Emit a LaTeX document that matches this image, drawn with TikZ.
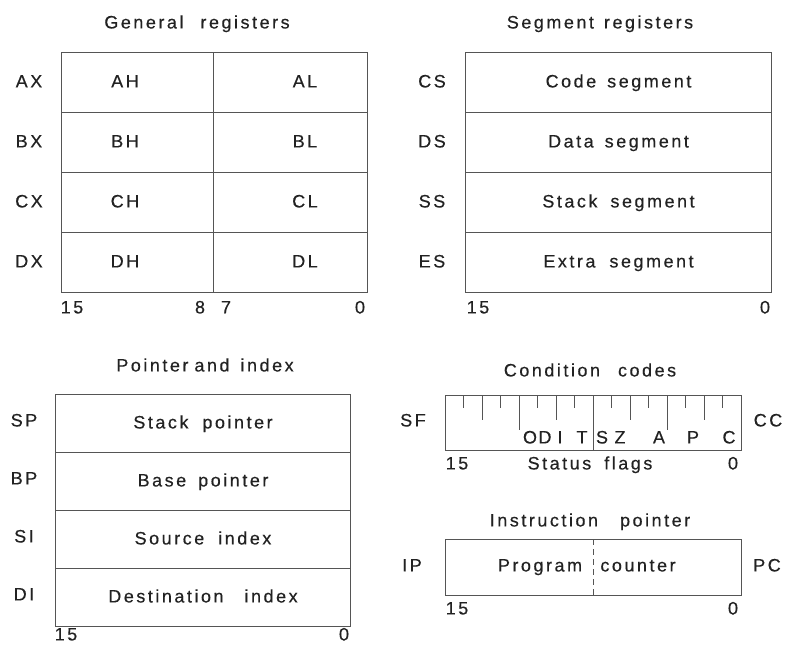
\documentclass[tikz,border=0pt]{standalone}
\usepackage{fontspec}
\setmainfont{Liberation Sans}[LetterSpace=14,FakeBold=0.4]
\definecolor{rule}{HTML}{555555}
\definecolor{ink}{HTML}{222222}
% explicit gap between words
\newcommand\wgap[1]{\hspace{#1pt}}
\begin{document}
\begin{tikzpicture}[x=1pt,y=-1pt,
  lbl/.style={font=\fontsize{18}{22}\selectfont, text=ink, inner sep=0pt,
              text height=12.9pt, text depth=0pt},
  cell/.style={lbl, text depth=3pt, draw=rule, line width=1pt, anchor=north west},
  tick/.style={draw=rule, line width=0.9pt}]
\useasboundingbox (0,0) rectangle (786,645);
\fill[white] (0,0) rectangle (786,645);

% ---------------- General registers ----------------
\node[lbl] (gtitle) at (197,22) {General\wgap{17}registers};
\foreach \r [count=\i from 0] in {A,B,C,D} {
  \node[cell, minimum width=152pt, minimum height=60pt] (\r hcell) at (61,52+60*\i) {};
  \node[cell, minimum width=154pt, minimum height=60pt] (\r lcell) at (213,52+60*\i) {};
  \node[lbl] (\r xname) at (29,81+60*\i) {\r X};
  \node[lbl] (\r hname) at (125,81+60*\i) {\r H};
  \node[lbl] (\r lname) at (305,81+60*\i) {\r L};
}
\node[lbl] (g15) at (72,307) {15};
\node[lbl] (g8) at (200,307) {8};
\node[lbl] (g7) at (226,307) {7};
\node[lbl] (g0) at (360,307) {0};

% ---------------- Segment registers ----------------
\node[lbl] (stitle) at (600,22) {Segment\wgap{10}registers};
\foreach \nm/\txt [count=\i from 0] in {CS/Code\wgap{11}segment, DS/Data\wgap{11}segment,
    SS/Stack\wgap{13}segment, ES/Extra\wgap{14}segment} {
  \node[cell, minimum width=306pt, minimum height=60pt] (\nm cell) at (465,52+60*\i) {\txt};
  \node[lbl] (\nm name) at (432,81+60*\i) {\nm};
}
\node[lbl] (s15) at (478,307) {15};
\node[lbl] (s0) at (765,307) {0};

% ---------------- Pointer and index ----------------
\node[lbl] (ptitle) at (205,365) {Pointer\wgap{6}and\wgap{11}index};
\foreach \nm/\txt [count=\i from 0] in {SP/Stack\wgap{14}pointer, BP/Base\wgap{12}pointer,
    SI/Source\wgap{14}index, DI/Destination\wgap{21}index} {
  \node[cell, minimum width=295pt, minimum height=58pt] (\nm cell) at (55,394+58*\i) {\txt};
  \node[lbl] (\nm name) at (24,420+58*\i) {\nm};
}
\node[lbl] (p15) at (66,634) {15};
\node[lbl] (p0) at (344,634) {0};

% ---------------- Condition codes ----------------
\node[lbl] (ctitle) at (590,370) {Condition\wgap{18}codes};
\node[cell, minimum width=296pt, minimum height=55pt] (cc) at (445,395) {};
\foreach \k/\len in {1/13,2/25,3/13,4/35,5/13,6/25,7/13,
                     9/13,10/25,11/13,12/35,13/13,14/25,15/13}
  \draw[tick] (445+18.5*\k,395) -- ++(0,\len);
\draw[tick] (cc.north) -- (cc.south);
\foreach \f/\fx in {O/530,D/545,I/560,T/582,S/602,Z/620,A/659,P/693,C/729}
  \node[lbl] (flag\f) at (\fx,437) {\f};
\node[lbl] (sf) at (413,420) {SF};
\node[lbl] (ccname) at (768,420) {CC};
\node[lbl] (c15) at (457,463) {15};
\node[lbl] (cstat) at (590,463) {Status\wgap{13}flags};
\node[lbl] (c0) at (733,463) {0};

% ---------------- Instruction pointer ----------------
\node[lbl] (ititle) at (590,520) {Instruction\wgap{22}pointer};
\node[cell, minimum width=296pt, minimum height=56pt] (ip) at (445,539) {};
\draw[tick, dash pattern=on 6pt off 4pt] (ip.north) -- (ip.south);
\node[lbl] (prog) at (540,565) {Program};
\node[lbl] (cnt) at (638,565) {counter};
\node[lbl] (ipname) at (412,565) {IP};
\node[lbl] (pcname) at (767,565) {PC};
\node[lbl] (i15) at (457,608) {15};
\node[lbl] (i0) at (733,608) {0};
\end{tikzpicture}
\end{document}
